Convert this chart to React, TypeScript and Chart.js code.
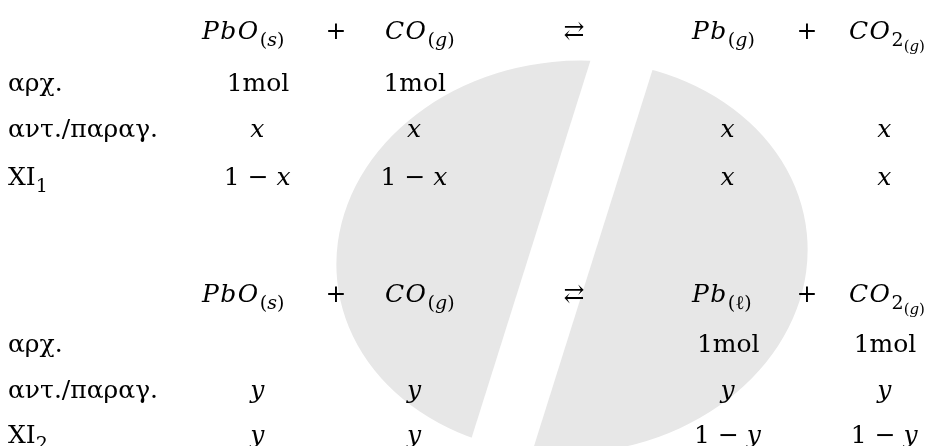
import React, { useEffect, useRef } from "react";
import { Chart, registerables } from "chart.js";

Chart.register(...registerables);

// ---------- data ----------
const STAGES = ["αρχ.", "αντ./παραγ.", "XI"];
const EQ_SUBSCRIPTS = ["1", "2"];
const OPERATORS = ["+", "⇄", "+"];

const SPECIES_1 = ["PbO(s)", "CO(g)", "Pb(g)", "CO2(g)"];
const INITIAL_1 = ["1mol", "1mol", "", ""];
const CHANGE_1 = ["x", "x", "x", "x"];
const EQUIL_1 = ["1 − x", "1 − x", "x", "x"];

const SPECIES_2 = ["PbO(s)", "CO(g)", "Pb(ℓ)", "CO2(g)"];
const INITIAL_2 = ["", "", "1mol", "1mol"];
const CHANGE_2 = ["y", "y", "y", "y"];
const EQUIL_2 = ["y", "y", "1 − y", "1 − y"];

// ---------- layout (column / row units of the hidden scales) ----------
const VALUE_COLS = [1, 2, 4, 5];
const HEADER_COLS = [0.643, 1.81, 3.769, 4.77];
const OPERATOR_COLS = [1.497, 3.016, 4.502];
const LABEL_COL = -0.595;
const BLOCK_ROWS = [
  [0, 1.12, 2.1, 3.13],
  [5.656, 6.73, 7.72, 8.69],
];
const X_MIN = -0.6459;
const X_MAX = 5.3573;
const Y_MIN = -0.8387;
const Y_MAX = 8.7527;

const SERIF = '"DejaVu Serif", "Liberation Serif", serif';
const SIZES = [25, 19, 15];
const OFFSETS = [0, 7, 12];
const TEXT_COLOR = "#000000";
const WATERMARK_COLOR = "#e7e7e7";

type Tok = { t: string; i?: boolean; l?: number };

function formulaTokens(f: string): Tok[] {
  const toks: Tok[] = [];
  let level = 0;
  let inParen = false;
  let afterDigit = false;
  for (const ch of f) {
    if (ch === "(") {
      inParen = true;
      level = afterDigit ? 2 : 1;
      toks.push({ t: ch, l: level });
    } else if (ch === ")") {
      toks.push({ t: ch, l: level });
      inParen = false;
    } else if (/[0-9]/.test(ch) && !inParen) {
      afterDigit = true;
      toks.push({ t: ch, l: 1 });
    } else if (inParen) {
      toks.push({ t: ch, i: ch !== "ℓ", l: level });
    } else {
      toks.push({ t: ch, i: true, l: 0 });
    }
  }
  return toks;
}

function valueTokens(v: string): Tok[] {
  return Array.from(v).map((ch) => ({ t: ch, i: ch === "x" || ch === "y", l: 0 }));
}

function fontFor(tok: Tok) {
  const l = tok.l || 0;
  return `${tok.i ? "italic " : ""}${SIZES[l]}px ${SERIF}`;
}

function drawTokens(ctx: CanvasRenderingContext2D, toks: Tok[], x: number, y: number, align: string) {
  const widths = toks.map((tk) => {
    ctx.font = fontFor(tk);
    return ctx.measureText(tk.t).width + (tk.i && (tk.l || 0) === 0 ? 1.5 : 0);
  });
  const total = widths.reduce((a, b) => a + b, 0);
  let cx = align === "left" ? x : x - total / 2;
  ctx.fillStyle = TEXT_COLOR;
  ctx.textBaseline = "alphabetic";
  ctx.textAlign = "left";
  toks.forEach((tk, k) => {
    ctx.font = fontFor(tk);
    ctx.fillText(tk.t, cx, y + OFFSETS[tk.l || 0]);
    cx += widths[k];
  });
}

type Pt = { x: number; y: number; toks: Tok[]; align: string };

function buildPoints(): Pt[] {
  const pts: Pt[] = [];
  const blocks = [
    { species: SPECIES_1, rows: [INITIAL_1, CHANGE_1, EQUIL_1] },
    { species: SPECIES_2, rows: [INITIAL_2, CHANGE_2, EQUIL_2] },
  ];
  blocks.forEach((b, bi) => {
    const rowsY = BLOCK_ROWS[bi];
    b.species.forEach((s, si) => {
      pts.push({ x: HEADER_COLS[si], y: rowsY[0], toks: formulaTokens(s), align: "left" });
    });
    OPERATORS.forEach((op, oi) => {
      pts.push({ x: OPERATOR_COLS[oi], y: rowsY[0], toks: [{ t: op, l: 0 }], align: "center" });
    });
    STAGES.forEach((st, ri) => {
      const toks: Tok[] = [{ t: st, l: 0 }];
      if (ri === 2) toks.push({ t: EQ_SUBSCRIPTS[bi], l: 1 });
      pts.push({ x: LABEL_COL, y: rowsY[ri + 1], toks, align: "left" });
      b.rows[ri].forEach((v, ci) => {
        if (v) pts.push({ x: VALUE_COLS[ci], y: rowsY[ri + 1], toks: valueTokens(v), align: "center" });
      });
    });
  });
  return pts;
}

const watermarkPlugin = {
  id: "watermark",
  beforeDatasetsDraw(chart: any) {
    const ctx = chart.ctx as CanvasRenderingContext2D;
    ctx.save();
    ctx.fillStyle = WATERMARK_COLOR;
    ctx.beginPath();
    ctx.ellipse(572, 257, 236, 196, -0.1, 0, Math.PI * 2);
    ctx.fill();
    ctx.fillStyle = "#ffffff";
    const slope = -0.315;
    const xl = (y: number) => 590 + slope * (y - 62);
    const xr = (y: number) => 655 + slope * (y - 62);
    ctx.beginPath();
    ctx.moveTo(xl(0), 0);
    ctx.lineTo(xr(0), 0);
    ctx.lineTo(xr(460), 460);
    ctx.lineTo(xl(460), 460);
    ctx.closePath();
    ctx.fill();
    ctx.restore();
  },
};

const textPlugin = {
  id: "cellText",
  afterDatasetsDraw(chart: any) {
    const ctx = chart.ctx as CanvasRenderingContext2D;
    const meta = chart.getDatasetMeta(0);
    const data = chart.data.datasets[0].data as Pt[];
    ctx.save();
    meta.data.forEach((el: any, i: number) => {
      const raw = data[i];
      drawTokens(ctx, raw.toks, el.x, el.y, raw.align);
    });
    ctx.restore();
  },
};

export default function App() {
  const ref = useRef<HTMLCanvasElement | null>(null);
  useEffect(() => {
    if (!ref.current) return;
    const chart = new Chart(ref.current, {
      type: "scatter",
      data: {
        datasets: [
          {
            data: buildPoints() as any,
            pointRadius: 0,
            pointHoverRadius: 0,
            showLine: false,
          },
        ],
      },
      options: {
        animation: false,
        responsive: false,
        layout: { padding: 0 },
        plugins: { legend: { display: false }, tooltip: { enabled: false }, title: { display: false } },
        events: [],
        scales: {
          x: { type: "linear", min: X_MIN, max: X_MAX, display: false },
          y: { type: "linear", min: Y_MIN, max: Y_MAX, reverse: true, display: false },
        },
      },
      plugins: [watermarkPlugin, textPlugin],
    });
    return () => chart.destroy();
  }, []);
  return (
    <div style={{ position: "fixed", left: 0, top: 0, width: 941, height: 446, background: "#ffffff" }}>
      <canvas ref={ref} width={941} height={446} style={{ display: "block" }} />
    </div>
  );
}
